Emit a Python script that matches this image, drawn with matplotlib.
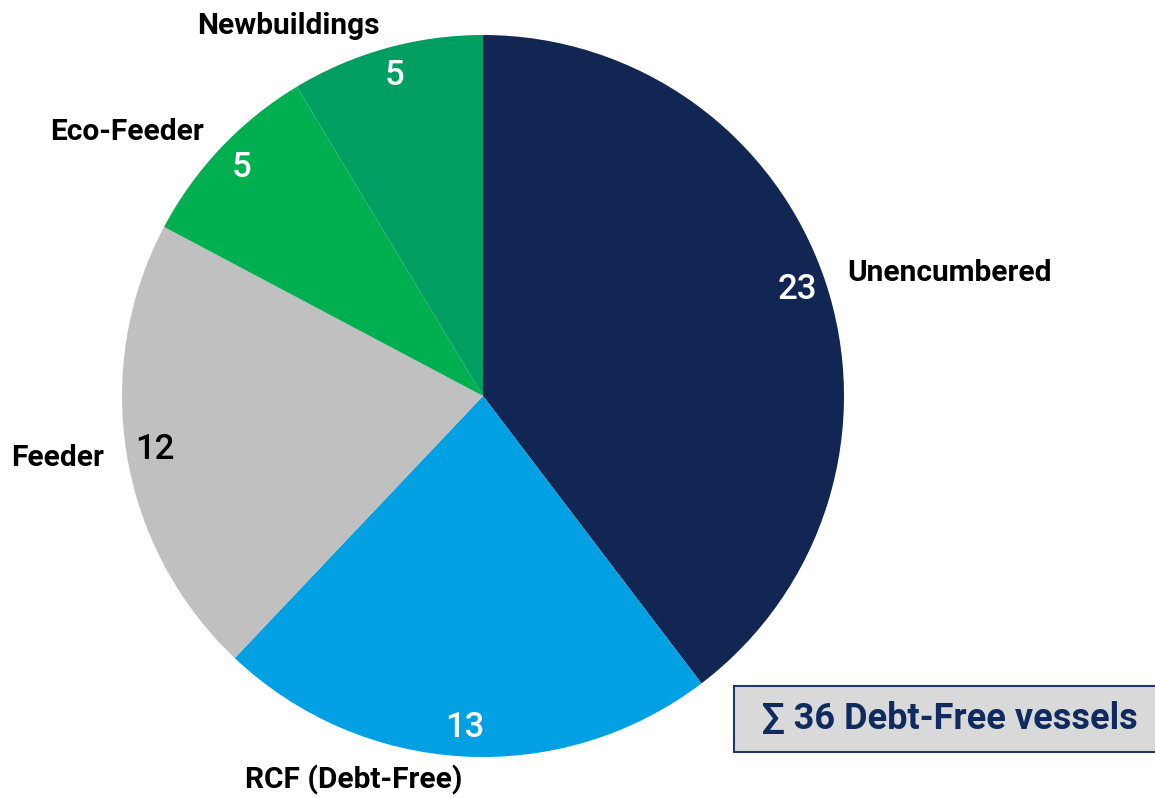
import numpy as np
import matplotlib.pyplot as plt
from matplotlib.patches import Rectangle

labels = ['Unencumbered', 'RCF (Debt-Free)', 'Feeder', 'Eco-Feeder', 'Newbuildings']
values = [23, 13, 12, 5, 5]
colors = ['#112653', '#00A0E3', '#C0C0C0', '#00B050', '#009E60']
num_colors = ['white', 'white', 'black', 'white', 'white']
total_note = '\u2211 36 Debt-Free vessels'

plt.rcParams['font.family'] = ['Roboto', 'DejaVu Sans']

fig = plt.figure(figsize=(11.55, 7.98), dpi=100)
ax = fig.add_axes([0, 0, 1, 1])

cx, cy, r = 483, 402, 361
wedges, texts, autotexts = ax.pie(
    values, labels=labels, colors=colors, startangle=90, counterclock=False,
    center=(cx, cy), radius=r, labeldistance=1.065, pctdistance=0.92,
    autopct=lambda p: '%d' % round(p * sum(values) / 100),
    textprops=dict(fontsize=21.5, fontweight='bold', color='black'),
    wedgeprops=dict(linewidth=0), frame=True)
ax.axis('off')
ax.set_xlim(0, 1155)
ax.set_ylim(0, 798)
ax.set_aspect('equal')

for w, t in zip(wedges, texts):
    ang = np.deg2rad((w.theta1 + w.theta2) / 2)
    t.set_ha('left' if np.cos(ang) > 0 else 'right')
    t.set_va('center')

for t, c in zip(autotexts, num_colors):
    t.set_color(c)
    t.set_fontsize(25)
    t.set_fontweight('medium')

ax.add_patch(Rectangle((734, 46), 430, 66, facecolor='#D9D9D9',
                       edgecolor='#1F3864', linewidth=1.5, clip_on=False))
ax.text(950, 79, total_note, fontsize=26, fontweight='bold', color='#0F2A5E',
        ha='center', va='center')

fig.savefig('out.png', dpi=100)
